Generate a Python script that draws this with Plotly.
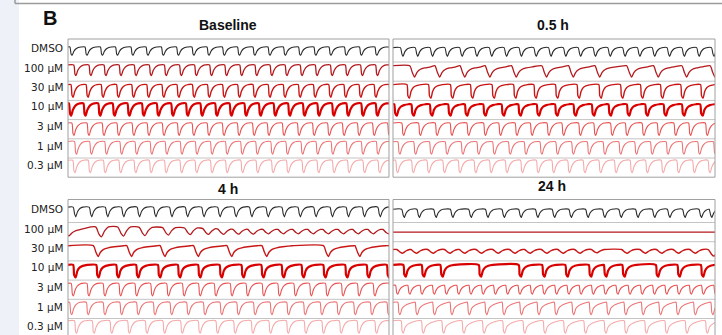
import plotly.graph_objects as go

W, H = 722, 335

# ---------------- data ----------------
CONDITIONS = ["DMSO", "100 µM", "30 µM", "10 µM", "3 µM", "1 µM", "0.3 µM"]
PANEL_TITLES = ["Baseline", "0.5 h", "4 h", "24 h"]

# beat onset times, % of the recording window
BASE_DMSO = [0.6, 5.3, 10.1, 14.8, 19.6, 24.3, 29.1, 33.8, 38.6, 43.3, 48.1, 52.8, 57.6, 62.3, 67.1, 71.8, 76.6, 81.3, 86.1, 90.8, 95.6]
BASE_100 = [1.8, 6.5, 11.2, 15.9, 20.6, 25.3, 30.0, 34.7, 39.4, 44.1, 48.8, 53.5, 58.2, 62.9, 67.6, 72.3, 77.0, 81.7, 86.4, 91.1, 95.8]
BASE_30 = [0.9, 5.6, 10.3, 15.1, 19.8, 24.5, 29.2, 33.9, 38.7, 43.4, 48.1, 52.8, 57.6, 62.3, 67.0, 71.7, 76.4, 81.2, 85.9, 90.6, 95.3, 100.0]
BASE_10 = [0.3, 4.8, 9.4, 13.9, 18.5, 23.0, 27.6, 32.1, 36.7, 41.2, 45.8, 50.3, 54.9, 59.4, 64.0, 68.5, 73.1, 77.6, 82.2, 86.7, 91.3, 95.8]
BASE_3 = [1.2, 5.9, 10.6, 15.2, 19.9, 24.6, 29.3, 34.0, 38.6, 43.3, 48.0, 52.7, 57.4, 62.0, 66.7, 71.4, 76.1, 80.8, 85.4, 90.1, 94.8, 99.5]
BASE_1 = [2.0, 6.7, 11.4, 16.1, 20.8, 25.5, 30.2, 34.9, 39.6, 44.3, 49.0, 53.7, 58.4, 63.1, 67.8, 72.5, 77.2, 81.9, 86.6, 91.3, 96.0]
BASE_03 = [1.5, 6.3, 11.0, 15.8, 20.5, 25.3, 30.0, 34.8, 39.5, 44.3, 49.0, 53.8, 58.5, 63.3, 68.0, 72.8, 77.5, 82.3, 87.0, 91.8, 96.5]

H05_DMSO = [2.3, 6.9, 11.5, 16.1, 20.7, 25.3, 29.9, 34.5, 39.1, 43.7, 48.3, 52.9, 57.5, 62.1, 66.7, 71.3, 75.9, 80.5, 85.1, 89.7, 94.3, 98.9]
H05_100 = [5.2, 13.0, 20.8, 28.6, 36.8, 46.2, 54.5, 62.7, 72.6, 80.9, 89.7, 98.5]
H05_30 = [4.3, 11.0, 17.8, 24.0, 30.7, 37.4, 43.7, 50.4, 57.1, 63.9, 70.6, 76.8, 83.0, 89.3, 95.5]
H05_10 = [0.4, 5.7, 11.4, 17.1, 22.3, 28.0, 33.7, 38.9, 44.6, 50.3, 56.0, 61.7, 66.9, 72.6, 78.3, 84.0, 89.7, 95.4]
H05_3 = [2.7, 7.9, 13.1, 17.7, 22.9, 28.1, 32.8, 37.9, 42.6, 47.8, 52.4, 57.6, 62.3, 67.5, 72.1, 77.3, 82.0, 87.2, 91.8, 97.0]
H05_1 = [1.5, 6.4, 11.3, 16.2, 21.1, 26.0, 30.9, 35.8, 40.7, 45.6, 50.5, 55.4, 60.3, 65.2, 70.1, 75.0, 79.9, 84.8, 89.7, 94.6, 99.5]
H05_03 = [0.8, 5.7, 10.5, 15.4, 20.2, 25.1, 29.9, 34.8, 39.6, 44.5, 49.3, 54.2, 59.0, 63.9, 68.7, 73.6, 78.4, 83.3, 88.1, 93.0, 97.8]

H4_DMSO = [1.6, 6.6, 11.6, 16.6, 21.5, 26.6, 31.6, 36.5, 41.6, 46.6, 51.6, 56.5, 61.6, 66.6, 71.6, 76.5, 81.6, 86.6, 91.6, 96.5]
H4_100 = [-1.5, 8.6, 15.5, 22.2, 29.5, 36.3, 42.0, 46.7, 51.4, 56.0, 60.7, 65.4, 70.0, 74.7, 79.4, 84.1, 88.7, 93.4, 98.1]
H4_100_TOP = [0.6, 0.85, 0.85, 0.82, 0.8, 0.78, 0.74, 0.7, 0.69, 0.68, 0.68, 0.68, 0.68, 0.68, 0.68, 0.68, 0.68, 0.68, 0.68]
H4_100_DEPTH = [0.35, 0.68, 0.62, 0.56, 0.5, 0.45, 0.4, 0.36, 0.33, 0.32, 0.3, 0.3, 0.3, 0.3, 0.3, 0.3, 0.3, 0.3, 0.3]
H4_30 = [7.9, 18.3, 28.7, 39.1, 49.5, 60.4, 79.6, 89.4]
H4_10 = [1.6, 8.8, 15.0, 21.2, 28.0, 34.2, 40.5, 47.2, 54.0, 60.2, 66.5, 72.7, 79.5, 86.3, 93.0, 99.3]
H4_3 = [1.0, 5.9, 10.9, 15.8, 20.8, 25.7, 30.7, 35.6, 40.6, 45.5, 50.5, 55.4, 60.4, 65.3, 70.3, 75.2, 80.2, 85.1, 90.1, 95.0, 100.0]
H4_1 = [0.5, 5.7, 10.9, 16.1, 21.3, 26.5, 31.7, 36.9, 42.1, 47.3, 52.5, 57.7, 62.9, 68.1, 73.3, 78.5, 83.7, 88.9, 94.1, 99.3]
H4_03 = [2.0, 7.5, 13.0, 18.5, 24.0, 29.5, 35.0, 40.5, 46.0, 51.5, 57.0, 62.5, 68.0, 73.5, 79.0, 84.5, 90.0, 95.5]

H24_DMSO = [2.7, 7.4, 12.6, 17.8, 23.5, 28.7, 33.8, 39.0, 44.2, 49.4, 54.6, 59.8, 65.0, 70.1, 75.3, 80.5, 85.2, 89.9, 95.0, 98.2]
H24_100 = []
H24_30 = [1.2, 5.6, 10.8, 16.0, 20.6, 25.8, 31.0, 36.2, 40.9, 46.1, 51.2, 56.4, 61.6, 71.0, 76.7, 81.8, 87.0, 92.2, 97.9]
H24_30_DEPTH = [0.25, 0.25, 0.25, 0.25, 0.25, 0.25, 0.25, 0.25, 0.25, 0.25, 0.25, 0.25, 0.22, 0.25, 0.25, 0.25, 0.25, 0.25, 0.45]
H24_10 = [3.2, 8.9, 14.7, 26.6, 39.0, 46.3, 53.5, 60.8, 65.5, 71.2, 81.6, 88.3, 95.6]
H24_3 = [0.8, 4.6, 8.4, 12.2, 16.0, 19.8, 23.6, 27.4, 31.2, 35.0, 38.8, 42.6, 46.4, 50.2, 54.0, 57.8, 61.6, 65.4, 69.2, 73.0, 76.8, 80.6, 84.4, 88.2, 92.0, 95.8, 99.6]
H24_1 = [1.5, 6.9, 12.3, 17.7, 23.1, 28.5, 33.9, 39.3, 44.7, 50.1, 55.5, 60.9, 66.3, 71.7, 77.1, 82.5, 87.9, 93.3, 98.7]
H24_03 = [2.5, 8.8, 15.1, 21.4, 27.7, 34.0, 40.3, 46.6, 52.9, 59.2, 65.5, 71.8, 78.1, 84.4, 90.7, 97.0]

# plateau level and beat depth per row (row units)
BASE_TOP = [0.70, 0.95, 0.92, 0.95, 0.92, 0.97, 1.00]
BASE_DEPTH = [0.47, 0.72, 0.86, 0.84, 0.84, 0.86, 0.85]
H05_TOP = [0.66, 0.90, 0.92, 0.89, 0.92, 0.95, 1.00]
H05_DEPTH = [0.50, 0.77, 0.92, 0.78, 0.84, 0.85, 0.85]
H4_TOP = [0.72, None, 0.88, 0.88, 0.93, 0.95, 1.00]
H4_DEPTH = [0.55, None, 0.74, 0.85, 0.85, 0.85, 0.85]
H24_TOP = [0.60, 0.50, 0.62, 0.88, 0.80, 0.95, 1.00]
H24_DEPTH = [0.47, 0.0, None, 0.80, 0.60, 0.85, 0.85]

# single-beat waveform shapes (time after onset in %, normalised level)
FAST_T = [0, 0.35, 0.7, 1.2, 1.8, 2.6, 3.4]
FAST_V = [1, 0.15, 0.0, 0.45, 0.75, 0.93, 1.0]
VSHAPE_T = [0, 0.45, 0.8, 1.4, 2.2, 3.0]
VSHAPE_V = [1, 0.3, 0.0, 0.55, 0.88, 1.0]
SLOW_T = [0, 0.8, 1.5, 2.2, 3.2, 4.6, 6.5, 9.5]
SLOW_V = [1, 0.4, 0.0, 0.4, 0.66, 0.8, 0.9, 1.0]
MID_T = [0, 0.3, 0.8, 1.3, 2.0, 3.0, 4.4]
MID_V = [1, 0.2, 0.0, 0.5, 0.78, 0.92, 1.0]
RIPPLE_T = [0, 1.0, 1.8, 2.8, 4.0]
RIPPLE_V = [1, 0.3, 0.0, 0.6, 1.0]
LONG_T = [0, 0.3, 0.7, 1.3, 2.3, 3.6, 5.0]
LONG_V = [1, 0.2, 0.0, 0.5, 0.75, 0.9, 1.0]

ONSETS = [
    [BASE_DMSO, BASE_100, BASE_30, BASE_10, BASE_3, BASE_1, BASE_03],
    [H05_DMSO, H05_100, H05_30, H05_10, H05_3, H05_1, H05_03],
    [H4_DMSO, H4_100, H4_30, H4_10, H4_3, H4_1, H4_03],
    [H24_DMSO, H24_100, H24_30, H24_10, H24_3, H24_1, H24_03],
]
TOPS = [BASE_TOP, H05_TOP, H4_TOP, H24_TOP]
DEPTHS = [BASE_DEPTH, H05_DEPTH, H4_DEPTH, H24_DEPTH]

# ---------------- styles ----------------
SHAPES = {
    "fast": (FAST_T, FAST_V), "v": (VSHAPE_T, VSHAPE_V), "slow": (SLOW_T, SLOW_V),
    "mid": (MID_T, MID_V), "ripple": (RIPPLE_T, RIPPLE_V), "long": (LONG_T, LONG_V),
}
ROW_SHAPE = [
    ["fast", "fast", "fast", "fast", "fast", "fast", "fast"],
    ["v", "slow", "mid", "mid", "fast", "fast", "fast"],
    ["v", "ripple", "slow", "mid", "fast", "fast", "fast"],
    ["v", "fast", "ripple", "mid", "fast", "long", "long"],
]
COLORS = ["#2a2a2a", "#b3191c", "#c81616", "#d90000", "#e85252", "#ec7474", "#f4aaaa"]
WIDTHS = [1.1, 1.3, 1.4, 2.2, 1.1, 1.1, 1.1]

COLS = [(68, 389), (393, 715)]
PANEL_TOPS = [39, 39, 199.5, 199.5]
PANEL_COL = [0, 1, 0, 1]
REL_EDGES = [0, 23, 42.2, 61.4, 80.6, 99.8, 119, 138.2]
LABEL_REL = [9, 29, 48, 67, 87, 107, 126]
Y_LO, Y_HI = -0.15, 1.15


def px(x):
    return x / W


def py(y):
    return 1 - y / H


def build(onsets, tops, depths, tpl_t, tpl_v):
    xs, ys = [0.0], [tops[0]]
    for i, t0 in enumerate(onsets):
        nxt = onsets[i + 1] if i + 1 < len(onsets) else 1e9
        for rt, v in zip(tpl_t, tpl_v):
            if rt > 0 and t0 + rt >= nxt - 0.05:
                break
            xs.append(t0 + rt)
            ys.append(tops[i] - depths[i] * (1 - v))
    xs.append(max(100.0, xs[-1] + 0.1))
    ys.append(ys[-1])
    return xs, ys


fig = go.Figure()
shapes = []
annotations = []
n = 0
for p in range(4):
    c0, c1 = COLS[PANEL_COL[p]]
    top = PANEL_TOPS[p]
    for r in range(7):
        n += 1
        y0 = top + REL_EDGES[r]
        y1 = top + REL_EDGES[r + 1]
        lo, hi = Y_LO, Y_HI
        if y1 > H:
            frac = (H - y0) / (y1 - y0)
            lo = Y_HI - (Y_HI - Y_LO) * frac
            y1 = H
        xa = "xaxis" if n == 1 else f"xaxis{n}"
        ya = "yaxis" if n == 1 else f"yaxis{n}"
        xr = "x" if n == 1 else f"x{n}"
        yr = "y" if n == 1 else f"y{n}"
        fig.layout[xa] = dict(domain=[px(c0), px(c1)], range=[0, 100], visible=False, anchor=yr)
        fig.layout[ya] = dict(domain=[max(0, py(y1)), py(y0)], range=[lo, hi], visible=False, anchor=xr)

        ons = ONSETS[p][r]
        tp = TOPS[p][r]
        dp = DEPTHS[p][r]
        if p == 2 and r == 1:
            tops_l, deps_l = H4_100_TOP, H4_100_DEPTH
        elif p == 3 and r == 2:
            tops_l, deps_l = [tp] * len(ons), H24_30_DEPTH
        else:
            tops_l, deps_l = [tp] * max(1, len(ons)), [dp] * max(1, len(ons))
        tt, tv = SHAPES[ROW_SHAPE[p][r]]
        xs, ys = build(ons, tops_l, deps_l, tt, tv)
        fig.add_trace(go.Scatter(
            x=xs, y=ys, xaxis=xr, yaxis=yr, mode="lines",
            line=dict(color=COLORS[r], width=WIDTHS[r], shape="spline", smoothing=0.6),
            hoverinfo="skip", showlegend=False))

        if r > 0:
            shapes.append(dict(type="line", xref="paper", yref="paper",
                               x0=px(c0), x1=px(c1), y0=py(top + REL_EDGES[r]), y1=py(top + REL_EDGES[r]),
                               line=dict(color="#c4c4c4", width=1)))
        if PANEL_COL[p] == 0:
            annotations.append(dict(x=px(65), y=py(top + LABEL_REL[r]), xref="paper", yref="paper",
                                    text=CONDITIONS[r], showarrow=False, xanchor="right", yanchor="middle",
                                    font=dict(family="DejaVu Sans", size=10.5, color="#222")))
    shapes.append(dict(type="rect", xref="paper", yref="paper",
                       x0=px(c0), x1=px(c1), y0=py(top + REL_EDGES[-1]), y1=py(top),
                       line=dict(color="#a0a0a0", width=1)))

TITLE_POS = [(228, 25), (553, 25), (228, 189), (552, 186)]
for t, (tx, ty) in zip(PANEL_TITLES, TITLE_POS):
    annotations.append(dict(x=px(tx), y=py(ty), xref="paper", yref="paper", text=f"<b>{t}</b>",
                            showarrow=False, xanchor="center", yanchor="middle",
                            font=dict(family="Liberation Sans", size=14, color="#111")))
annotations.append(dict(x=px(50), y=py(18), xref="paper", yref="paper", text="<b>B</b>",
                        showarrow=False, xanchor="center", yanchor="middle",
                        font=dict(family="Liberation Sans", size=20, color="#111")))

# left light strip and top rule
shapes.insert(0, dict(type="rect", xref="paper", yref="paper", x0=0, x1=px(19), y0=0, y1=1,
                      line=dict(width=0), fillcolor="#eef1f7", layer="below"))
shapes.append(dict(type="line", xref="paper", yref="paper", x0=px(15), x1=1, y0=py(3.5), y1=py(3.5),
                   line=dict(color="#9a9a9a", width=1.5)))
shapes.append(dict(type="line", xref="paper", yref="paper", x0=px(15), x1=px(15), y0=py(0), y1=py(3.5),
                   line=dict(color="#9a9a9a", width=1.5)))

fig.update_layout(width=W, height=H, margin=dict(l=0, r=0, t=0, b=0),
                  paper_bgcolor="white", plot_bgcolor="white",
                  shapes=shapes, annotations=annotations)
fig.write_html("out.html", config={"displayModeBar": False},
               post_script="document.body.style.margin='0px';")
